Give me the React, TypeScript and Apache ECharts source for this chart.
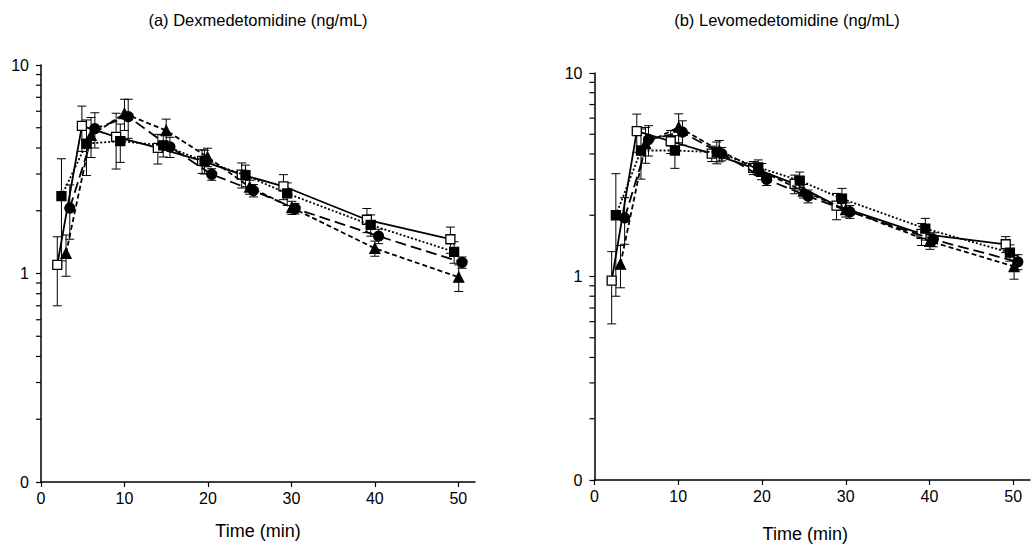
import React, { useEffect, useRef } from "react";
import * as echarts from "echarts";

// ---------- data ----------
const panelTitles = ["(a) Dexmedetomidine (ng/mL)", "(b) Levomedetomidine (ng/mL)"];
const xAxisName = "Time (min)";
const xTickValues = [0, 10, 20, 30, 40, 50];
const yMinorTickValues = [0.2, 0.3, 0.4, 0.5, 0.6, 0.7, 0.8, 0.9, 2, 3, 4, 5, 6, 7, 8, 9];

// (a) Dexmedetomidine
const dexOpenSqTime = [1.95, 4.9, 9.0, 14.0, 19.3, 24.05, 29.05, 39.05, 49.05];
const dexOpenSqConc = [1.1, 5.1, 4.52, 4.0, 3.47, 2.98, 2.62, 1.81, 1.46];
const dexOpenSqSD = [0.4, 1.25, 1.35, 0.65, 0.45, 0.41, 0.36, 0.24, 0.21];

const dexFilledSqTime = [2.45, 5.45, 9.5, 14.65, 19.6, 24.5, 29.5, 39.5, 49.5];
const dexFilledSqConc = [2.35, 4.2, 4.31, 4.12, 3.45, 2.96, 2.42, 1.71, 1.27];
const dexFilledSqSD = [1.2, 1.25, 0.9, 0.5, 0.45, 0.35, 0.3, 0.2, 0.15];

const dexCircleTime = [3.45, 6.45, 10.45, 15.45, 20.45, 25.45, 30.45, 40.45, 50.45];
const dexCircleConc = [2.06, 4.95, 5.65, 4.05, 2.99, 2.5, 2.05, 1.51, 1.13];
const dexCircleSD = [0.6, 0.95, 1.2, 0.45, 0.19, 0.17, 0.12, 0.12, 0.07];

const dexTriangleTime = [3.0, 6.0, 10.0, 15.0, 19.95, 25.0, 30.05, 40.0, 50.05];
const dexTriangleConc = [1.25, 4.6, 5.85, 4.85, 3.62, 2.6, 2.07, 1.32, 0.96];
const dexTriangleSD = [0.28, 1.0, 1.0, 0.65, 0.37, 0.2, 0.15, 0.11, 0.14];

// (b) Levomedetomidine
const levOpenSqTime = [2.05, 5.05, 9.1, 14.0, 18.95, 23.9, 28.9, 39.05, 49.1];
const levOpenSqConc = [0.955, 5.18, 4.62, 4.02, 3.42, 2.85, 2.23, 1.62, 1.44];
const levOpenSqSD = [0.37, 1.1, 0.6, 0.35, 0.25, 0.3, 0.33, 0.2, 0.13];

const levFilledSqTime = [2.55, 5.55, 9.6, 14.6, 19.55, 24.5, 29.55, 39.5, 49.6];
const levFilledSqConc = [2.0, 4.16, 4.16, 4.08, 3.44, 2.96, 2.41, 1.72, 1.31];
const levFilledSqSD = [1.2, 1.15, 0.76, 0.5, 0.3, 0.3, 0.3, 0.21, 0.12];

const levCircleTime = [3.6, 6.45, 10.5, 15.2, 20.55, 25.5, 30.5, 40.45, 50.55];
const levCircleConc = [1.94, 4.71, 5.12, 4.0, 3.0, 2.48, 2.08, 1.52, 1.18];
const levCircleSD = [0.5, 0.8, 0.7, 0.3, 0.2, 0.18, 0.15, 0.12, 0.1];

const levTriangleTime = [3.1, 6.1, 10.05, 14.9, 19.95, 24.95, 30.0, 40.05, 50.1];
const levTriangleConc = [1.15, 4.5, 5.42, 4.16, 3.29, 2.63, 2.13, 1.49, 1.12];
const levTriangleSD = [0.27, 0.9, 0.88, 0.5, 0.3, 0.2, 0.17, 0.13, 0.15];

const panels = [
  [
    [dexOpenSqTime, dexOpenSqConc, dexOpenSqSD],
    [dexFilledSqTime, dexFilledSqConc, dexFilledSqSD],
    [dexCircleTime, dexCircleConc, dexCircleSD],
    [dexTriangleTime, dexTriangleConc, dexTriangleSD],
  ],
  [
    [levOpenSqTime, levOpenSqConc, levOpenSqSD],
    [levFilledSqTime, levFilledSqConc, levFilledSqSD],
    [levCircleTime, levCircleConc, levCircleSD],
    [levTriangleTime, levTriangleConc, levTriangleSD],
  ],
];

// ---------- styles ----------
const FONT = "'Liberation Sans', Arial, sans-serif";
const seriesStyles = [
  { symbol: "rect", size: 9, fill: "#ffffff", dash: "solid" as any },
  { symbol: "rect", size: 9, fill: "#000000", dash: [2, 2] as any },
  { symbol: "circle", size: 10, fill: "#000000", dash: [11, 5] as any },
  { symbol: "triangle", size: 10, fill: "#000000", dash: [5, 3] as any },
];
const grids = [
  { left: 41, top: 65, width: 434, height: 417 },
  { left: 594.5, top: 73, width: 435.5, height: 407 },
];
const nameGaps = [40, 45];
const namePads = [[0, 0, 0, 0], [0, 14, 0, 0]];
const titleCenters = [[258, 20], [787, 20]];

export default function App() {
  const ref = useRef<HTMLDivElement>(null);
  useEffect(() => {
    if (!ref.current) return;
    const chart = echarts.init(ref.current, null, { renderer: "svg" });

    const xAxes = grids.map((_, i) => ({
      type: "value",
      gridIndex: i,
      min: 0,
      max: 52,
      interval: 10,
      name: xAxisName,
      nameLocation: "middle",
      nameGap: nameGaps[i],
      nameTextStyle: { fontFamily: FONT, fontSize: 18, color: "#000", padding: namePads[i] },
      axisLine: { show: true, lineStyle: { color: "#000", width: 1.5 } },
      axisTick: { show: true, length: 5, customValues: xTickValues, lineStyle: { color: "#000", width: 1.2 } },
      axisLabel: { customValues: xTickValues, fontFamily: FONT, fontSize: 16, color: "#000", margin: 8 },
      splitLine: { show: false },
    }));
    const yAxes = grids.map((_, i) => ({
      type: "log",
      logBase: 10,
      gridIndex: i,
      min: 0.1,
      max: 10,
      axisLine: { show: true, lineStyle: { color: "#000", width: 1.5 } },
      axisTick: { show: true, length: 5, lineStyle: { color: "#000", width: 1.2 } },
      axisLabel: {
        fontFamily: FONT,
        fontSize: 16,
        color: "#000",
        margin: 12,
        formatter: (v: number) => (v >= 1 ? String(Math.round(v)) : "0"),
      },
      splitLine: { show: false },
    }));

    const series: any[] = [];
    panels.forEach((panel, pi) => {
      // minor ticks on log axis
      series.push({
        type: "custom",
        xAxisIndex: pi,
        yAxisIndex: pi,
        clip: false,
        silent: true,
        z: 1,
        data: yMinorTickValues.map((v) => [0, v]),
        encode: { x: 0, y: 1 },
        renderItem: (params: any, api: any) => {
          const p = api.coord([0, api.value(1)]);
          return {
            type: "line",
            shape: { x1: p[0] - 5, y1: p[1], x2: p[0], y2: p[1] },
            style: { stroke: "#000", lineWidth: 1.2 },
          };
        },
      });
      panel.forEach(([times, conc, sd], si) => {
        const st = seriesStyles[si];
        // error bars
        series.push({
          type: "custom",
          xAxisIndex: pi,
          yAxisIndex: pi,
          clip: false,
          silent: true,
          z: 2,
          data: times.map((t, k) => [t, conc[k], sd[k]]),
          encode: { x: 0, y: 1 },
          renderItem: (params: any, api: any) => {
            const x = api.value(0);
            const v = api.value(1);
            const s = api.value(2);
            const hi = api.coord([x, v + s]);
            const lo = api.coord([x, Math.max(v - s, 0.1)]);
            const cap = 4.5;
            const stl = { stroke: "#000", lineWidth: 1 };
            return {
              type: "group",
              children: [
                { type: "line", shape: { x1: hi[0], y1: hi[1], x2: lo[0], y2: lo[1] }, style: stl },
                { type: "line", shape: { x1: hi[0] - cap, y1: hi[1], x2: hi[0] + cap, y2: hi[1] }, style: stl },
                { type: "line", shape: { x1: lo[0] - cap, y1: lo[1], x2: lo[0] + cap, y2: lo[1] }, style: stl },
              ],
            };
          },
        });
        series.push({
          type: "line",
          xAxisIndex: pi,
          yAxisIndex: pi,
          z: 3 + si,
          data: times.map((t, k) => [t, conc[k]]),
          symbol: st.symbol,
          symbolSize: st.size,
          showAllSymbol: true,
          lineStyle: { color: "#000", width: 1.8, type: st.dash },
          itemStyle: { color: st.fill, borderColor: "#000", borderWidth: 1.3 },
          emphasis: { disabled: true },
        });
      });
    });

    chart.setOption({
      animation: false,
      backgroundColor: "#ffffff",
      grid: grids.map((g) => ({ ...g, containLabel: false })),
      xAxis: xAxes,
      yAxis: yAxes,
      graphic: panelTitles.map((t, i) => ({
        type: "text",
        x: titleCenters[i][0],
        y: titleCenters[i][1],
        style: {
          text: t,
          fill: "#000",
          font: `16.5px ${FONT}`,
          align: "center",
          verticalAlign: "middle",
        },
      })),
      series,
    });
    return () => chart.dispose();
  }, []);
  return (
    <div
      ref={ref}
      style={{ position: "fixed", left: 0, top: 0, width: 1031, height: 549, background: "#fff" }}
    />
  );
}
